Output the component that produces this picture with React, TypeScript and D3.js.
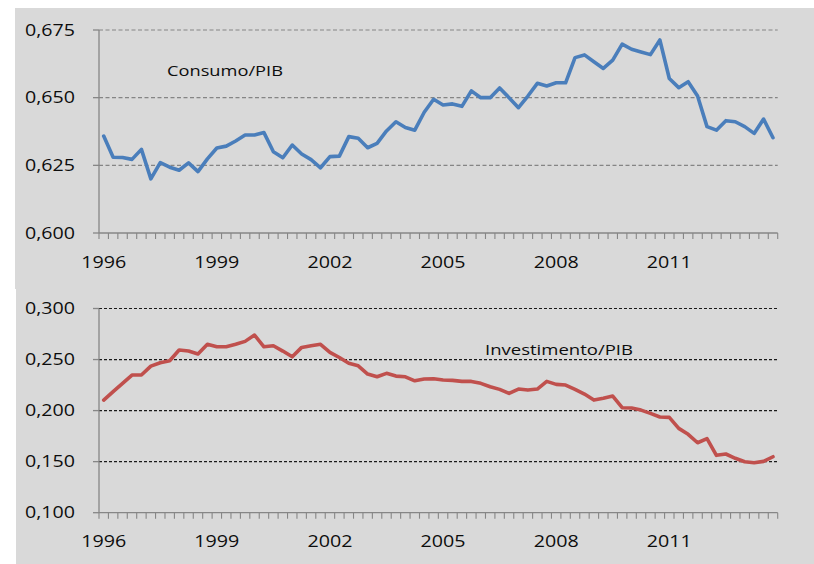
import React from "react";
import * as d3 from "d3";

const years = d3.range(1996, 2014);
const categories: string[] = years.flatMap((y) => ["T1", "T2", "T3", "T4"].map((q) => `${y} ${q}`));
const xLabelYears = ["1996", "1999", "2002", "2005", "2008", "2011"];

const consumo = [
  0.6358, 0.628, 0.6279, 0.6272, 0.6309, 0.62, 0.626, 0.6243, 0.6232, 0.6259,
  0.6227, 0.6274, 0.6314, 0.6321, 0.634, 0.6362, 0.6362, 0.6371, 0.63, 0.6278,
  0.6325, 0.6292, 0.6271, 0.6241, 0.6282, 0.6284, 0.6356, 0.635, 0.6315, 0.6331,
  0.6377, 0.6411, 0.639, 0.638, 0.6446, 0.6494, 0.6473, 0.6477, 0.6468, 0.6525,
  0.65, 0.65, 0.6536, 0.65, 0.6463, 0.6506, 0.6553, 0.6543, 0.6555, 0.6555,
  0.6648, 0.6658, 0.6633, 0.6608, 0.6639, 0.6698, 0.6679, 0.6669, 0.6659, 0.6713,
  0.6571, 0.6537, 0.6559, 0.6506, 0.6393, 0.638, 0.6415, 0.6411, 0.6393, 0.6368,
  0.6421, 0.6352,
];

const investimento = [
  0.2103, 0.2185, 0.2267, 0.2348, 0.2348, 0.2436, 0.2469, 0.2488, 0.2593, 0.2583,
  0.2554, 0.2649, 0.2625, 0.2625, 0.2649, 0.2678, 0.274, 0.2625, 0.2635, 0.2583,
  0.2527, 0.2619, 0.2635, 0.2649, 0.257, 0.252, 0.2463, 0.2439, 0.2358, 0.2331,
  0.2365, 0.2338, 0.2331, 0.2292, 0.2309, 0.2312, 0.2299, 0.2296, 0.2286, 0.2286,
  0.2267, 0.2234, 0.2208, 0.2169, 0.2211, 0.2201, 0.2211, 0.2286, 0.2257, 0.225,
  0.2208, 0.2162, 0.2103, 0.212, 0.2142, 0.2028, 0.2025, 0.2005, 0.1973, 0.1937,
  0.1934, 0.1826, 0.1768, 0.1685, 0.1725, 0.1562, 0.1575, 0.1533, 0.1499, 0.149,
  0.1503, 0.1548,
];

const consumoTicks = [0.6, 0.625, 0.65, 0.675];
const investTicks = [0.1, 0.15, 0.2, 0.25, 0.3];

const FONT = "'Open Sans', 'Noto Sans', sans-serif";
const TEXT = "#0d0d0d";
const fmt = (v: number) => d3.format(".3f")(v).replace(".", ",");
const labelLen = (s: string) => s.split("").reduce((a, c) => a + (c === "," ? 5 : 11.25), 0);

type PanelProps = {
  values: number[];
  domain: [number, number];
  range: [number, number];
  ticks: number[];
  color: string;
  gridColor: string;
  gridDash: string;
  gridWidth: number;
  title: string;
  titleX: number;
  titleY: number;
  titleLen: number;
  xLabelY: number;
};

function Panel(p: PanelProps) {
  const x = d3.scaleBand<string>().domain(categories).range([99, 777.7]).padding(0);
  const y = d3.scaleLinear().domain(p.domain).range(p.range);
  const bw = x.bandwidth();
  const line = d3
    .line<number>()
    .x((_, i) => (x(categories[i]) as number) + bw / 2)
    .y((d) => y(d));
  const axisY = y(p.domain[0]);
  const boundaries = categories.map((c) => x(c) as number).concat([777.7]);
  return (
    <g>
      {p.ticks.map((t) =>
        t === p.domain[0] ? null : (
          <line
            key={"g" + t}
            x1={99}
            x2={777.7}
            y1={y(t)}
            y2={y(t)}
            stroke={p.gridColor}
            strokeWidth={p.gridWidth}
            strokeDasharray={p.gridDash}
          />
        )
      )}
      <line x1={99} x2={99} y1={y(p.domain[1])} y2={axisY} stroke="#868686" strokeWidth={1.3} />
      <line x1={99} x2={777.7} y1={axisY} y2={axisY} stroke="#868686" strokeWidth={1.3} />
      {p.ticks.map((t) => (
        <line key={"yt" + t} x1={93} x2={99} y1={y(t)} y2={y(t)} stroke="#868686" strokeWidth={1.3} />
      ))}
      {boundaries.map((bx, i) => (
        <line key={"xt" + i} x1={bx} x2={bx} y1={axisY} y2={axisY + 6} stroke="#868686" strokeWidth={1.1} />
      ))}
      {p.ticks.map((t) => (
        <text
          key={"yl" + t}
          x={75}
          y={y(t)}
          dy="0.36em"
          textAnchor="end"
          fontFamily={FONT}
          fontSize={15.5}
          fontWeight={500}
          fill={TEXT}
          textLength={labelLen(fmt(t))}
          lengthAdjust="spacingAndGlyphs"
        >
          {fmt(t)}
        </text>
      ))}
      {xLabelYears.map((yr) => {
        const c = `${yr} T1`;
        const cx = (x(c) as number) + bw / 2;
        return (
          <text
            key={"xl" + yr}
            x={cx}
            y={p.xLabelY}
            textAnchor="middle"
            fontFamily={FONT}
            fontSize={15.5}
            fontWeight={500}
            fill={TEXT}
            textLength={45}
            lengthAdjust="spacingAndGlyphs"
          >
            {yr}
          </text>
        );
      })}
      <path d={line(p.values) as string} fill="none" stroke={p.color} strokeWidth={3.6} strokeLinejoin="round" strokeLinecap="round" />
      <text
        x={p.titleX}
        y={p.titleY}
        fontFamily={FONT}
        fontSize={15}
        fontWeight={500}
        fill={TEXT}
        textLength={p.titleLen}
        lengthAdjust="spacingAndGlyphs"
      >
        {p.title}
      </text>
    </g>
  );
}

export default function App() {
  return (
    <svg
      width={814}
      height={564}
      style={{ position: "absolute", left: 0, top: 0, display: "block", background: "#ffffff" }}
    >
      <rect x={15} y={8} width={799} height={281} fill="#d9d9d9" />
      <rect x={16} y={288} width={798} height={276} fill="#d9d9d9" />
      <Panel
        values={consumo}
        domain={[0.6, 0.675]}
        range={[233, 30]}
        ticks={consumoTicks}
        color="#4a7ebb"
        gridColor="#858585"
        gridDash="4,2.5"
        gridWidth={1.1}
        title="Consumo/PIB"
        titleX={167}
        titleY={76}
        titleLen={116}
        xLabelY={268}
      />
      <Panel
        values={investimento}
        domain={[0.1, 0.3]}
        range={[512.7, 308.5]}
        ticks={investTicks}
        color="#c0504d"
        gridColor="#1a1a1a"
        gridDash="3,2"
        gridWidth={1.2}
        title="Investimento/PIB"
        titleX={485}
        titleY={355}
        titleLen={148}
        xLabelY={547}
      />
    </svg>
  );
}
